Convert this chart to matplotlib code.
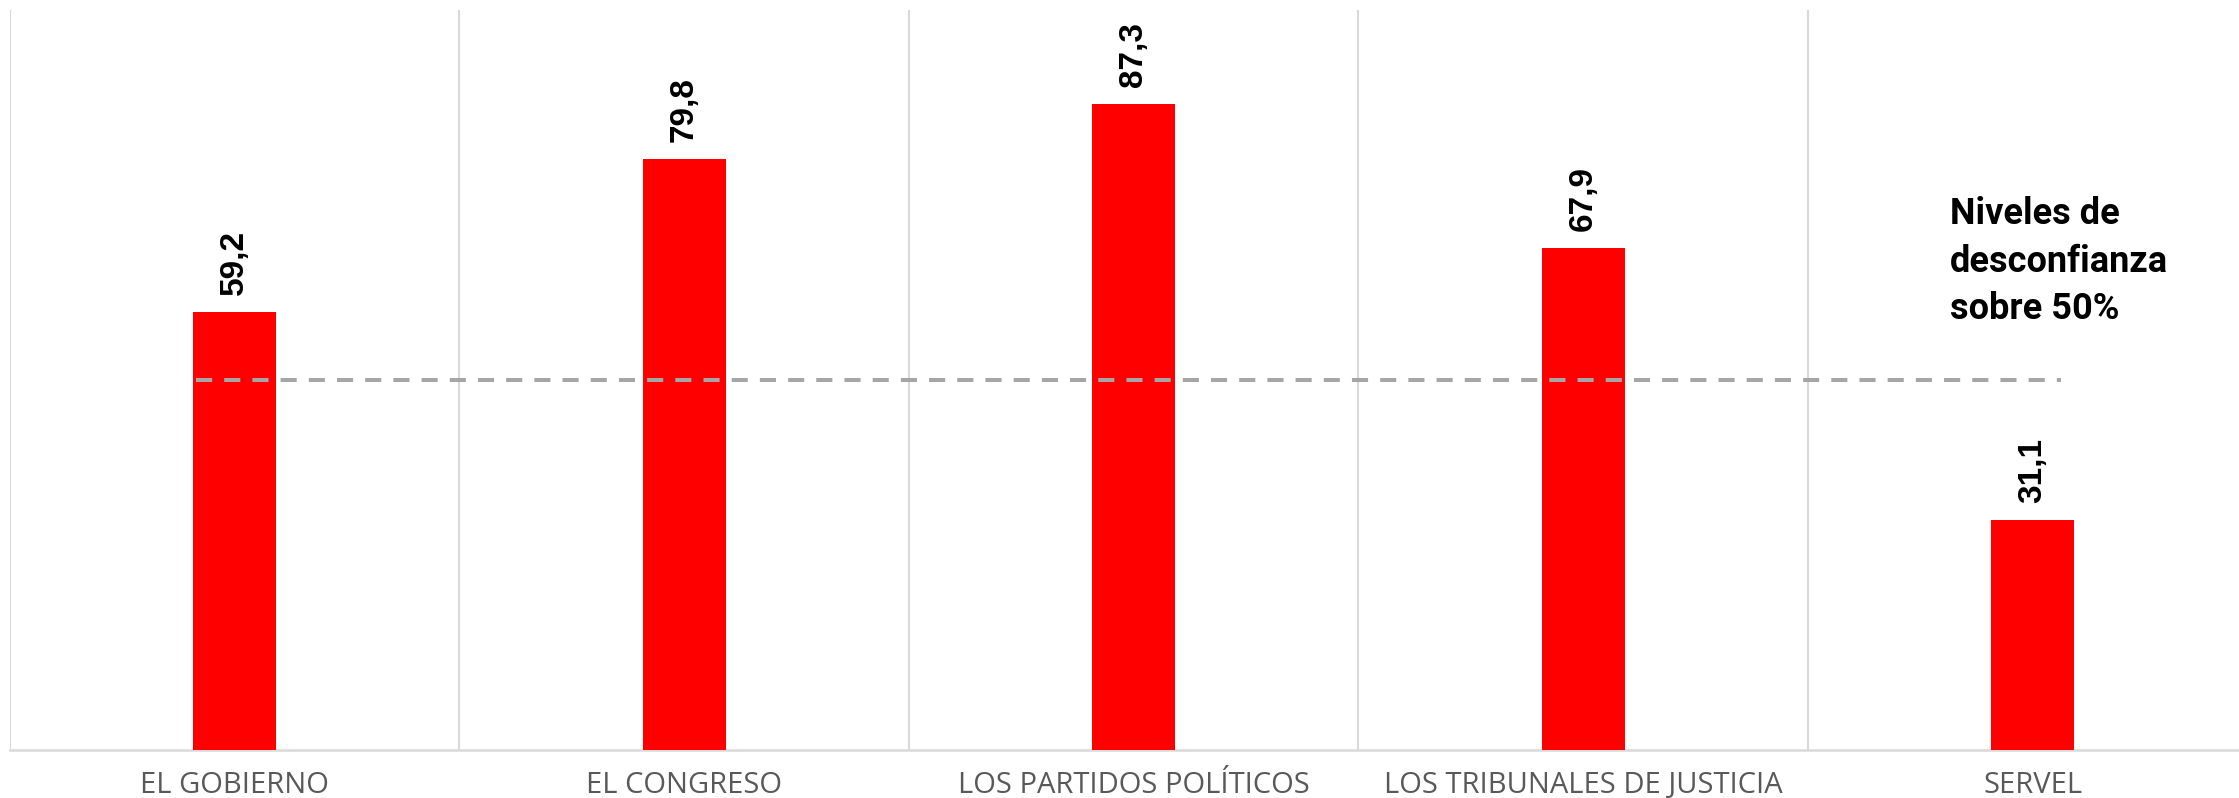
import matplotlib.pyplot as plt
import numpy as np

categorias = ["EL GOBIERNO", "EL CONGRESO", "LOS PARTIDOS POLÍTICOS",
              "LOS TRIBUNALES DE JUSTICIA", "SERVEL"]
valores = [59.2, 79.8, 87.3, 67.9, 31.1]
umbral = 50
nota = "Niveles de\ndesconfianza\nsobre 50%"

W, H = 2239, 798
fig = plt.figure(figsize=(W / 100, H / 100), dpi=100)
ax = fig.add_axes([10 / W, 48 / H, 2247.5 / W, 740 / H])

x = np.arange(len(categorias))
ax.bar(x, valores, width=0.185, color="#FF0000", zorder=3)

for xi, v in zip(x, valores):
    ax.annotate(f"{v:.1f}".replace(".", ","), (xi, v), xytext=(0, 17),
                textcoords="offset pixels", rotation=90, ha="center", va="bottom",
                fontsize=24, fontweight="bold", family="Liberation Sans", color="black")

# linea de referencia 50%
ax.plot([-0.087, 4.063], [umbral, umbral], color="#A6A6A6", lw=2.9,
        dashes=(4, 3), zorder=4)

ax.text(3.816, 74.8, nota, ha="left", va="top", fontsize=26, fontweight="bold",
        family="Roboto", linespacing=1.4, color="black")

ax.set_xlim(-0.5, len(categorias) - 0.5)
ax.set_ylim(0, 100)
ax.set_xticks(x)
ax.set_xticklabels(categorias, fontsize=21, color="#595959", family="Open Sans")
ax.tick_params(axis="x", length=0, pad=15)
ax.set_yticks([])

for b in np.arange(-0.5, len(categorias), 1.0):
    ax.axvline(b, color="#D9D9D9", lw=1.5, zorder=1)

for s in ["top", "right", "left"]:
    ax.spines[s].set_visible(False)
ax.spines["bottom"].set_color("#D9D9D9")
ax.spines["bottom"].set_linewidth(1.8)

fig.savefig("out.png", dpi=100)
